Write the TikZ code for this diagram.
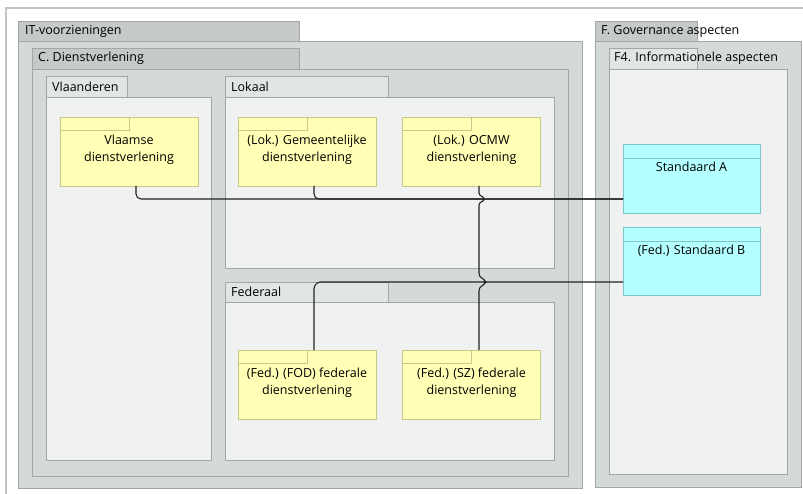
\documentclass[tikz,border=0pt]{standalone}
\usepackage{fontspec}
\setmainfont{Open Sans}
\usetikzlibrary{calc}
\definecolor{grpbg}{HTML}{D4D9D9}
\definecolor{tabdark}{HTML}{C5C9C9}
\definecolor{tablight}{HTML}{E2E5E5}
\definecolor{bodylight}{HTML}{F0F1F1}
\definecolor{edgecol}{HTML}{A2A6A6}
\definecolor{framecol}{HTML}{C4C4C4}
\definecolor{yfill}{HTML}{FFFFB5}
\definecolor{yedge}{HTML}{C8C88C}
\definecolor{cfill}{HTML}{B4FFFF}
\definecolor{cedge}{HTML}{80C6C6}
\definecolor{conncol}{HTML}{222222}
\begin{document}
\begin{tikzpicture}[x=1pt,y=-1pt,
  font=\fontsize{12.5}{17}\selectfont,
  darktab/.style={draw=edgecol, fill=tabdark, line width=0.9pt},
  darkbody/.style={draw=edgecol, fill=grpbg, line width=0.9pt},
  lighttab/.style={draw=edgecol, fill=tablight, line width=0.9pt},
  lightbody/.style={draw=edgecol, fill=bodylight, line width=0.9pt},
  tablabel/.style={anchor=west, inner sep=0pt, text=black},
  ysvc/.style={rectangle, draw=yedge, fill=yfill, line width=0.9pt,
    minimum width=138pt, minimum height=69pt, inner sep=0pt, outer sep=0pt,
    path picture={\draw[yedge, line width=0.8pt] (path picture bounding box.north west) rectangle ([yshift=-13pt]path picture bounding box.north);}},
  cstd/.style={rectangle, draw=cedge, fill=cfill, line width=0.9pt,
    minimum width=137pt, inner sep=0pt, outer sep=0pt,
    path picture={\draw[cedge, line width=0.8pt] ([yshift=-14pt]path picture bounding box.north west) -- ([yshift=-14pt]path picture bounding box.north east);}},
  lbl/.style={anchor=north, yshift=-17.5pt, align=center, inner sep=0pt},
  conn/.style={draw=conncol, line width=1.1pt}]
\useasboundingbox (0,0) rectangle (803,494);
\fill[white] (0,0) rectangle (803,494);
\draw[framecol, line width=1.6pt] (6,494) -- (6,8) -- (803,8);
% IT-voorzieningen
\draw[darktab] (18,21) rectangle (299,41);
\draw[darkbody] (18,41) rectangle (582,488);
\node[tablabel] (lit) at (25,31) {IT-voorzieningen};
% C. Dienstverlening
\draw[darktab] (32,48) rectangle (299,69);
\draw[darkbody] (32,69) rectangle (568,476);
\node[tablabel] (ldv) at (38,58.5) {C. Dienstverlening};
% Vlaanderen
\draw[lighttab] (46,76) rectangle (127,97);
\draw[lightbody] (46,97) rectangle (211,460);
\node[tablabel] (lvl) at (52,86.5) {Vlaanderen};
% Lokaal
\draw[lighttab] (225,76) rectangle (388,97);
\draw[lightbody] (225,97) rectangle (554,268);
\node[tablabel] (llk) at (231,86.5) {Lokaal};
% Federaal
\draw[lighttab] (225,282) rectangle (388,302);
\draw[lightbody] (225,302) rectangle (554,460);
\node[tablabel] (lfd) at (231,292) {Federaal};
% F. Governance aspecten
\draw[darktab] (595,21) rectangle (697,41);
\draw[darkbody] (595,41) rectangle (801,487);
\node[tablabel] (lgov) at (601,31) {F. Governance aspecten};
% F4
\draw[lighttab] (609,48) rectangle (697,69);
\draw[lightbody] (609,69) rectangle (787,474);
\node[tablabel] (lf4) at (614,58.5) {F4. Informationele aspecten};
% yellow services
\node[ysvc, label={[lbl]north:{Vlaamse\\dienstverlening}}] (vl) at (129,151.5) {};
\node[ysvc, label={[lbl]north:{(Lok.) Gemeentelijke\\dienstverlening}}] (gm) at (307,151.5) {};
\node[ysvc, label={[lbl]north:{(Lok.) OCMW\\dienstverlening}}] (oc) at (471.5,151.5) {};
\node[ysvc, label={[lbl]north:{(Fed.) (FOD) federale\\dienstverlening}}] (fod) at (307,384.5) {};
\node[ysvc, label={[lbl]north:{(Fed.) (SZ) federale\\dienstverlening}}] (sz) at (471.5,384.5) {};
% cyan standards
\node[cstd, minimum height=69pt, label={[lbl]north:{Standaard A}}] (sa) at (691.5,178.5) {};
\node[cstd, minimum height=68pt, label={[lbl]north:{(Fed.) Standaard B}}] (sb) at (691.5,261) {};
% connectors
\coordinate (jB) at (485,282);
\draw[conn, rounded corners=5pt] ([xshift=7pt]vl.south) |- ([yshift=-20.5pt]sa.west);
\draw[conn, rounded corners=5pt] ([xshift=7pt]gm.south) |- ([yshift=-20.5pt]sa.west);
\draw[conn, rounded corners=7pt] ([xshift=7pt]fod.north) |- ([yshift=-21pt]sb.west);
\draw[conn] ([xshift=7.5pt]oc.south) -- (479,193) .. controls (479,196.5) and (484,196) .. (484,199)
  .. controls (484,202) and (479,201.5) .. (479,205) -- (479,273.5)
  .. controls (479,278.5) and (485,278) .. (jB);
\draw[conn] ([xshift=7.5pt]sz.north) -- (479,290.5) .. controls (479,285.5) and (485,286) .. (jB);
\fill[conncol] (jB) circle (1.9pt);
\end{tikzpicture}
\end{document}
